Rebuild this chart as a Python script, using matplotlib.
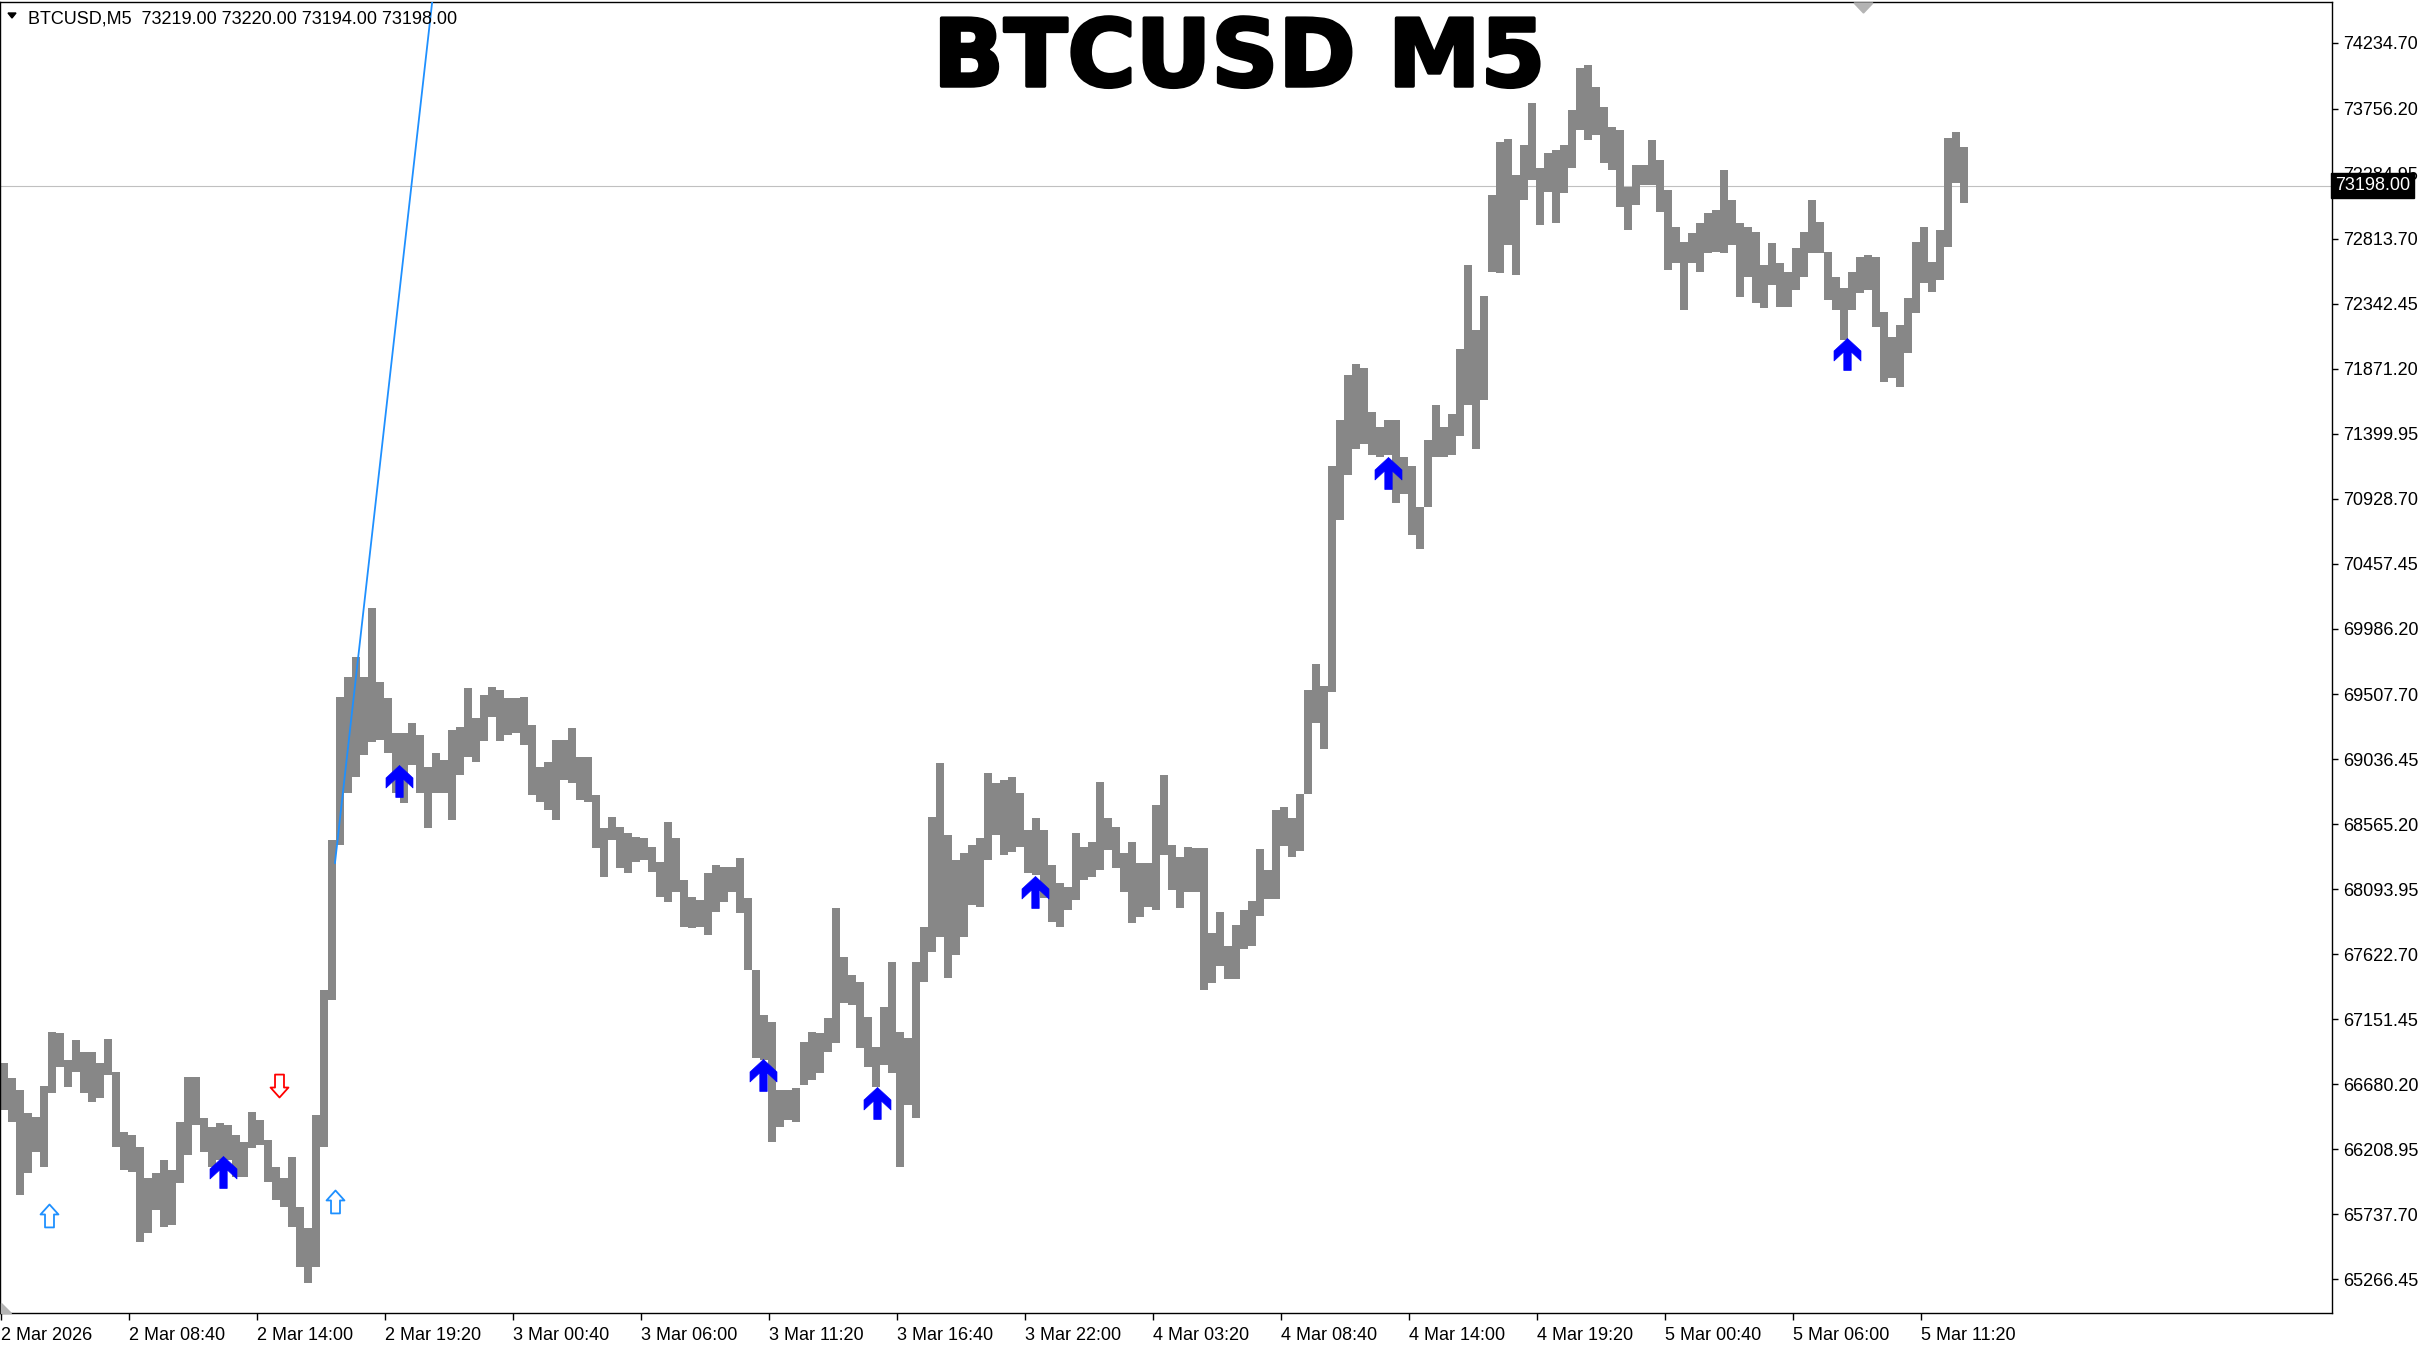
import matplotlib
matplotlib.use('Agg')
import matplotlib.pyplot as plt
import matplotlib.patheffects as pe
import numpy as np
from matplotlib.path import Path
from matplotlib.patches import Polygon
from matplotlib.transforms import blended_transform_factory

plt.rcParams['font.family'] = ['Liberation Sans', 'DejaVu Sans']

# BTCUSD M5, read as 20-minute envelopes (4 bars each) from 2 Mar 03:20
high = [66834, 66725, 66638, 66471, 66442, 66667, 67059, 67052, 66856, 67001,
        66914, 66914, 66834, 67008, 66769, 66333, 66311, 66224, 65999, 66035,
        66130, 66057, 66406, 66732, 66732, 66434, 66369, 66398, 66384, 66311,
        66260, 66478, 66420, 66275, 66079, 65999, 66151, 65789, 65637, 66456,
        67364, 68452, 69490, 69635, 69780, 69635, 70135, 69598, 69482, 69228,
        69228, 69301, 69214, 68982, 69083, 69032, 69250, 69272, 69555, 69337,
        69504, 69562, 69540, 69482, 69482, 69490, 69286, 68982, 69018, 69178,
        69178, 69265, 69054, 69054, 68779, 68539, 68619, 68546, 68503, 68474,
        68466, 68401, 68292, 68582, 68466, 68162, 68038, 68017, 68213, 68271,
        68256, 68256, 68321, 68031, 67509, 67182, 67131, 66638, 66638, 66652,
        66986, 67059, 67052, 67160, 67959, 67603, 67473, 67422, 67168, 66950,
        67240, 67567, 67059, 67015, 67567, 67821, 68619, 69011, 68488, 68307,
        68358, 68416, 68466, 68938, 68865, 68887, 68909, 68793, 68524, 68611,
        68524, 68271, 68140, 68111, 68503, 68401, 68437, 68872, 68611, 68546,
        68358, 68437, 68285, 68285, 68706, 68924, 68416, 68329, 68401, 68394,
        68394, 67778, 67930, 67684, 67836, 67944, 68010, 68387, 68235, 68670,
        68692, 68611, 68786, 69540, 69729, 69569, 71166, 71500, 71826, 71906,
        71877, 71558, 71449, 71500, 71500, 71231, 71166, 70868, 71354, 71608,
        71449, 71543, 72015, 72624, 72152, 72399, 73132, 73517, 73539, 73277,
        73495, 73800, 73328, 73437, 73459, 73495, 73749, 74054, 74075, 73916,
        73771, 73626, 73604, 73190, 73350, 73350, 73531, 73386, 73168, 72900,
        72791, 72856, 72928, 73001, 73023, 73313, 73096, 72928, 72900, 72864,
        72624, 72784, 72639, 72573, 72747, 72864, 73096, 72936, 72718, 72537,
        72457, 72573, 72682, 72697, 72682, 72283, 72102, 72189, 72384, 72791,
        72900, 72646, 72878, 73546, 73589, 73480]
low = [66493, 66406, 65876, 66035, 66188, 66079, 66616, 66805, 66660, 66769,
       66616, 66551, 66580, 66747, 66224, 66057, 66043, 65535, 65600, 65767,
       65644, 65659, 65963, 66166, 66384, 66188, 66079, 66130, 66130, 66006,
       66006, 66217, 66239, 65970, 65840, 65789, 65644, 65354, 65238, 65354,
       66224, 67291, 68416, 68793, 68909, 69069, 69163, 69178, 69083, 68793,
       68720, 68996, 68793, 68539, 68793, 68793, 68597, 68924, 69054, 69018,
       69170, 69344, 69170, 69214, 69228, 69141, 68779, 68728, 68670, 68597,
       68887, 68865, 68742, 68728, 68394, 68184, 68452, 68249, 68213, 68292,
       68307, 68220, 68038, 68002, 68074, 67821, 67814, 67821, 67763, 67930,
       68002, 68074, 67922, 67509, 66870, 66856, 66260, 66369, 66420, 66406,
       66674, 66711, 66761, 66914, 66979, 67269, 67255, 66943, 66805, 66660,
       66819, 66761, 66079, 66529, 66434, 67422, 67640, 67749, 67451, 67618,
       67749, 67980, 67966, 68307, 68488, 68343, 68365, 68401, 68213, 68198,
       68031, 67857, 67821, 67944, 68017, 68162, 68184, 68234, 68380, 68249,
       68074, 67850, 67893, 67966, 67944, 68343, 68089, 67959, 68074, 68074,
       67364, 67415, 67538, 67444, 67444, 67662, 67684, 67901, 68024, 68024,
       68409, 68329, 68372, 68786, 69301, 69112, 69526, 70774, 71100, 71289,
       71325, 71245, 71231, 71245, 70897, 70962, 70665, 70563, 70868, 71231,
       71231, 71245, 71383, 71608, 71289, 71645, 72573, 72566, 72769, 72551,
       73096, 73240, 72914, 73154, 72928, 73147, 73328, 73604, 73531, 73567,
       73364, 73313, 73045, 72878, 73060, 73205, 73205, 73009, 72588, 72639,
       72297, 72639, 72573, 72711, 72718, 72711, 72769, 72392, 72537, 72348,
       72312, 72479, 72319, 72319, 72443, 72537, 72711, 72711, 72370, 72297,
       72080, 72297, 72421, 72443, 72174, 71775, 71804, 71739, 71985, 72276,
       72493, 72428, 72515, 72755, 73219, 73074]

last_bar = [73219.00, 73220.00, 73194.00, 73198.00]  # O H L C

time_labels = ['2 Mar 2026', '2 Mar 08:40', '2 Mar 14:00', '2 Mar 19:20',
               '3 Mar 00:40', '3 Mar 06:00', '3 Mar 11:20', '3 Mar 16:40',
               '3 Mar 22:00', '4 Mar 03:20', '4 Mar 08:40', '4 Mar 14:00',
               '4 Mar 19:20', '5 Mar 00:40', '5 Mar 06:00', '5 Mar 11:20']
price_labels = ['74234.70', '73756.20', '73284.95', '72813.70', '72342.45',
                '71871.20', '71399.95', '70928.70', '70457.45', '69986.20',
                '69507.70', '69036.45', '68565.20', '68093.95', '67622.70',
                '67151.45', '66680.20', '66208.95', '65737.70', '65266.45']

# signal arrows: position (in 20-min slots) and price of the arrow tip
buy_x = [27.7, 49.7, 95.25, 109.5, 129.25, 173.4, 230.75]
buy_y = [66159, 68996, 66863, 66660, 68191, 71231, 72094]
hollow_up_x = [6.0, 41.75]
hollow_up_y = [65811, 65912]
hollow_dn_x = [34.7]
hollow_dn_y = [66587]

# trend line anchors
trend_x = [41.75, 53.9]
trend_y = [68285, 74532]

W, H = 2434, 1346
fig = plt.figure(figsize=(W / 100, H / 100), dpi=100)
fig.patch.set_facecolor('white')
ax = fig.add_axes([0, 33 / H, 2332 / W, 1311 / H])

x = np.arange(len(high))
hi = np.array(high)
lo = np.array(low)
ax.bar(x + 0.375, hi - lo, bottom=lo, width=1.0, color='#878787', linewidth=0, zorder=2)

# current price line
ax.axhline(last_bar[3], color='#c0c0c0', lw=0.8, zorder=1)

# trend line (ray upward)
slope = (trend_y[1] - trend_y[0]) / (trend_x[1] - trend_x[0])
tx = [trend_x[0], trend_x[1] + 10]
ty = [trend_y[0], trend_y[0] + slope * (tx[1] - trend_x[0])]
ax.plot(tx, ty, color='#1E90FF', lw=1.3, zorder=3)

# arrow marker shapes (tip at origin)
up_fill = Path([(0, 0), (13.5, -12.5), (13.5, -22.5), (3.7, -13.4), (3.7, -32),
                (-3.7, -32), (-3.7, -13.4), (-13.5, -22.5), (-13.5, -12.5), (0, 0)],
               closed=True)
up_hollow = Path([(0, 0), (9, -10), (4.5, -10), (4.5, -23), (-4.5, -23),
                  (-4.5, -10), (-9, -10), (0, 0)], closed=True)
dn_hollow = Path([(0, 0), (9, 10), (4.5, 10), (4.5, 23), (-4.5, 23),
                  (-4.5, 10), (-9, 10), (0, 0)], closed=True)

ax.plot(buy_x, buy_y, ls='none', marker=up_fill, markersize=46,
        mfc='#0000FF', mec='#0000FF', mew=0.5, zorder=5)
ax.plot(hollow_up_x, hollow_up_y, ls='none', marker=up_hollow, markersize=33,
        mfc='white', mec='#1E90FF', mew=1.3, zorder=5)
ax.plot(hollow_dn_x, hollow_dn_y, ls='none', marker=dn_hollow, markersize=33,
        mfc='white', mec='#FF0000', mew=1.3, zorder=5)

# axes and ticks
ax.set_xlim(-0.125, 291.4)
ax.set_ylim(65020, 74532)
ax.set_xticks(np.arange(len(time_labels)) * 16)
ax.set_xticklabels(time_labels, ha='left', fontsize=13)
ax.set_yticks([float(v) for v in price_labels])
ax.set_yticklabels(price_labels, fontsize=13)
ax.yaxis.tick_right()
ax.tick_params(axis='y', direction='out', length=4, width=1, pad=4, colors='black')
ax.tick_params(axis='x', direction='out', length=5, width=1, pad=5, colors='black')
for s in ax.spines.values():
    s.set_color('black')
    s.set_linewidth(1)

# current price tag
tr = blended_transform_factory(ax.transAxes, ax.transData)
ax.text(1.0012, last_bar[3], '%.2f' % last_bar[3], transform=tr, ha='left', va='center',
        fontsize=13, color='white', clip_on=False, zorder=10,
        bbox=dict(boxstyle='square,pad=0.22', facecolor='black', edgecolor='black'))

# header text
fig.text(28 / W, 1 - 24 / H,
         'BTCUSD,M5  ' + ' '.join('%.2f' % v for v in last_bar),
         fontsize=13, color='black', va='baseline', ha='left')
fig.patches.append(Polygon([(8 / W, 1 - 13 / H), (16 / W, 1 - 13 / H), (12 / W, 1 - 18 / H)],
                           closed=True, transform=fig.transFigure, color='black'))
fig.text(1239 / W, 1 - 86 / H, 'BTCUSD M5', fontsize=67, fontweight='bold',
         family='DejaVu Sans', color='black', ha='center', va='baseline',
         path_effects=[pe.withStroke(linewidth=2.5, foreground='black')])

# chart shift markers
fig.patches.append(Polygon([(1854 / W, 1 - 3 / H), (1873 / W, 1 - 3 / H), (1863.5 / W, 1 - 13 / H)],
                           closed=True, transform=fig.transFigure, color='#b4b4b4'))
fig.patches.append(Polygon([(1 / W, 1 - 1303 / H), (1 / W, 1 - 1313 / H), (11 / W, 1 - 1313 / H)],
                           closed=True, transform=fig.transFigure, color='#b4b4b4'))

fig.savefig('out.png', dpi=100)
